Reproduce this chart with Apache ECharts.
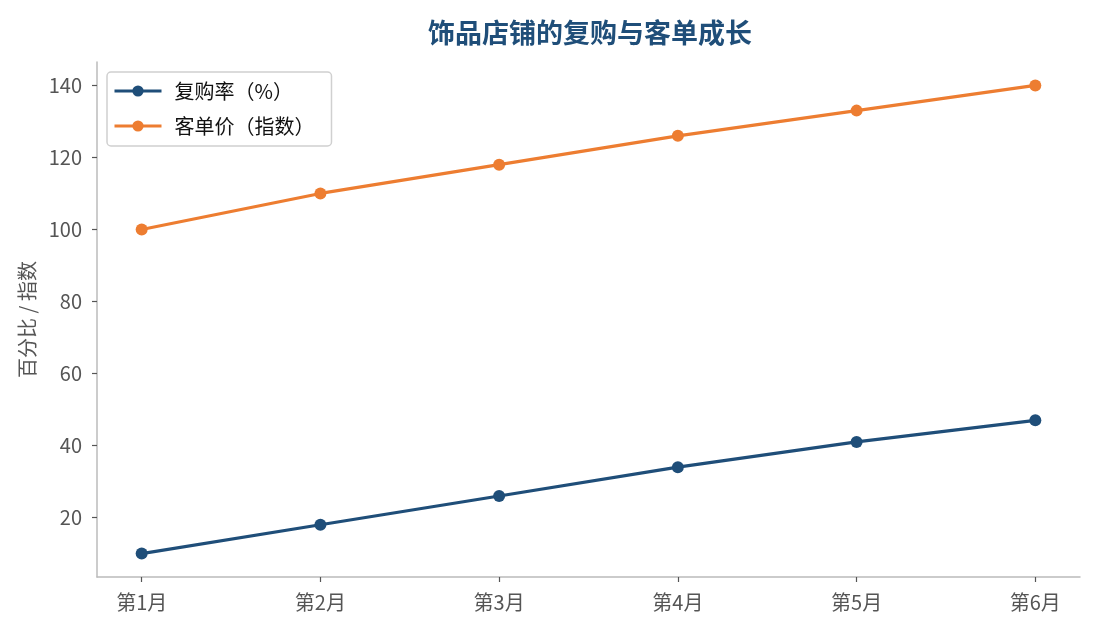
<!DOCTYPE html>
<html>
<head>
<meta charset="utf-8">
<title>饰品店铺的复购与客单成长</title>
<script src="https://cdn.jsdelivr.net/npm/echarts@6/dist/echarts.min.js"></script>
<style>
html,body{margin:0;padding:0;background:#fff;}
#chart{width:1095px;height:630px;}
</style>
</head>
<body>
<div id="chart"></div>
<script>
// 数据
var months = [1, 2, 3, 4, 5, 6];
var repurchase = [10, 18, 26, 34, 41, 47];   // 复购率（%）
var ticketIndex = [100, 110, 118, 126, 133, 140]; // 客单价（指数）
var yTicks = [20, 40, 60, 80, 100, 120, 140];

function pairs(xs, ys) {
  var out = [];
  for (var i = 0; i < xs.length; i++) out.push([xs[i], ys[i]]);
  return out;
}

var font = '"Noto Sans CJK SC", "Noto Sans", sans-serif';
var chart = echarts.init(document.getElementById('chart'));
var option = {
  animation: false,
  textStyle: { fontFamily: font },
  title: {
    text: '饰品店铺的复购与客单成长',
    // 标题居中于绘图区（97~1080）而非整个画布
    left: 423,
    top: 14,
    textStyle: { color: '#1f4e79', fontSize: 27, fontWeight: 'bold', fontFamily: font }
  },
  legend: {
    orient: 'vertical',
    left: 107,
    top: 72,
    padding: [9, 17, 10, 6],
    itemGap: 15,
    itemWidth: 47,
    itemHeight: 14,
    borderColor: '#d0d0d0',
    borderWidth: 1.5,
    borderRadius: 4,
    lineStyle: { width: 3 },
    textStyle: { color: '#111', fontSize: 20, fontFamily: font, padding: [0, 0, 0, 8] },
    data: ['复购率（%）', '客单价（指数）']
  },
  grid: { left: 97, right: 15, top: 62, bottom: 53 },
  xAxis: {
    type: 'value',
    min: 0.75,
    max: 6.25,
    splitLine: { show: false },
    axisLine: { lineStyle: { color: '#bbbbbb', width: 1.5 } },
    axisTick: { customValues: months, length: 5, lineStyle: { color: '#555', width: 1.2 } },
    axisLabel: {
      customValues: months,
      color: '#555', fontSize: 20, margin: 15,
      formatter: function (v) { return '第' + v + '月'; }
    }
  },
  yAxis: {
    type: 'value',
    min: 3.5,
    max: 146.5,
    name: '百分比 / 指数',
    nameLocation: 'middle',
    nameGap: 59,
    nameTextStyle: { color: '#555', fontSize: 20 },
    splitLine: { show: false },
    axisLine: { show: true, lineStyle: { color: '#bbbbbb', width: 1.5 } },
    axisTick: { show: true, customValues: yTicks, length: 5, lineStyle: { color: '#555', width: 1.2 } },
    axisLabel: { customValues: yTicks, color: '#555', fontSize: 20, margin: 15 }
  },
  series: [
    {
      name: '复购率（%）',
      type: 'line',
      data: pairs(months, repurchase),
      symbol: 'circle',
      symbolSize: 12,
      color: '#1f4e79',
      lineStyle: { width: 3.2 }
    },
    {
      name: '客单价（指数）',
      type: 'line',
      data: pairs(months, ticketIndex),
      symbol: 'circle',
      symbolSize: 12,
      color: '#ed7d31',
      lineStyle: { width: 3.2 }
    }
  ]
};
chart.setOption(option);
</script>
</body>
</html>
